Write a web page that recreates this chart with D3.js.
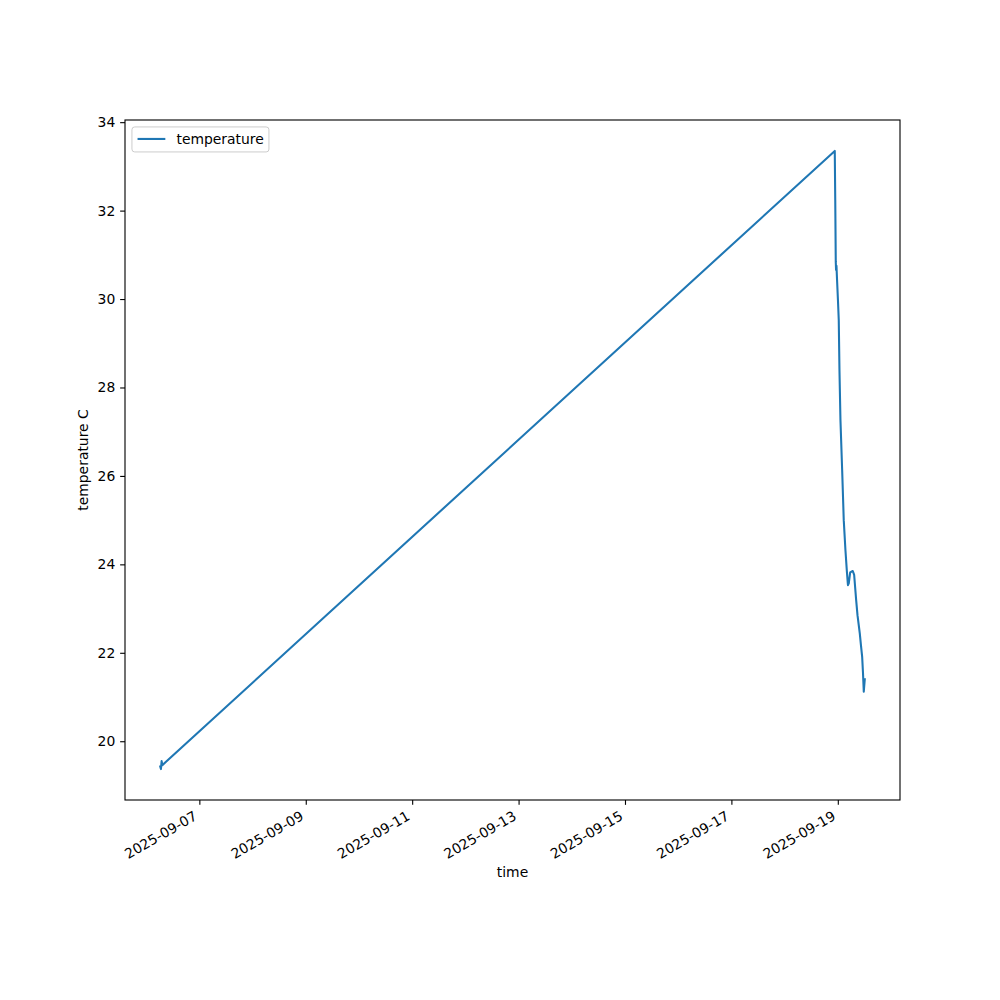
<!DOCTYPE html>
<html>
<head>
<meta charset="utf-8">
<script src="https://d3js.org/d3.v7.min.js"></script>
<style>
  body { margin: 0; background: #ffffff; }
  text { font-family: "DejaVu Sans", sans-serif; font-size: 13.9px; fill: #000000; }
</style>
</head>
<body>
<div id="chart"></div>
<script>
// temperature readings (UTC times)
var times = [
  "2025-09-06T06:21", "2025-09-06T06:40", "2025-09-06T06:59", "2025-09-06T07:18",
  "2025-09-18T22:38", "2025-09-18T22:51", "2025-09-18T23:05", "2025-09-18T23:13",
  "2025-09-18T23:24", "2025-09-18T23:40", "2025-09-19T00:04", "2025-09-19T00:26",
  "2025-09-19T00:45", "2025-09-19T01:12", "2025-09-19T01:58", "2025-09-19T02:41",
  "2025-09-19T03:27", "2025-09-19T04:03", "2025-09-19T04:35", "2025-09-19T04:57",
  "2025-09-19T05:35", "2025-09-19T06:45", "2025-09-19T07:23", "2025-09-19T08:17",
  "2025-09-19T08:53", "2025-09-19T09:55", "2025-09-19T10:27", "2025-09-19T11:00",
  "2025-09-19T11:21", "2025-09-19T11:43", "2025-09-19T12:10"
];
var temperature = [
  19.43, 19.37, 19.55, 19.46,
  33.35, 32.24, 30.84, 30.66,
  30.75, 30.43, 29.98, 29.52,
  28.39, 27.26, 26.13, 25.00,
  24.32, 23.87, 23.53, 23.57,
  23.82, 23.85, 23.76, 23.19,
  22.85, 22.44, 22.17, 21.90,
  21.56, 21.12, 21.40
];

// tick labels
var xTickLabels = ["2025-09-07", "2025-09-09", "2025-09-11", "2025-09-13",
  "2025-09-15", "2025-09-17", "2025-09-19"];
var yTickLabels = [20, 22, 24, 26, 28, 30, 32, 34];

var svgWidth = 1000;
var svgHeight = 1000;

// matplotlib default axes box (with autofmt_xdate bottom)
var margin = { top: 120, right: 100, bottom: 200, left: 125 };
var chartWidth = svgWidth - margin.left - margin.right;
var chartHeight = svgHeight - margin.top - margin.bottom;

var parseTime = d3.utcParse("%Y-%m-%dT%H:%M");
var parseDay = d3.utcParse("%Y-%m-%d");
var fontSize = 13.9;

var data = times.map(function(t, i) {
  return { time: parseTime(t), temperature: temperature[i] };
});

var svg = d3.select("#chart")
  .append("svg")
  .attr("width", svgWidth)
  .attr("height", svgHeight);

var chartGroup = svg.append("g")
  .attr("transform", `translate(${margin.left}, ${margin.top})`);

// 5% padding on both axes like matplotlib
var xExt = d3.extent(data, d => +d.time);
var xPad = (xExt[1] - xExt[0]) * 0.05;
var xScale = d3.scaleUtc()
  .domain([new Date(xExt[0] - xPad), new Date(xExt[1] + xPad)])
  .range([0, chartWidth]);

var yExt = d3.extent(data, d => d.temperature);
var yPad = (yExt[1] - yExt[0]) * 0.05;
var yScale = d3.scaleLinear()
  .domain([yExt[0] - yPad, yExt[1] + yPad])
  .range([chartHeight, 0]);

// line
var line = d3.line()
  .x(d => xScale(d.time))
  .y(d => yScale(d.temperature));

chartGroup.append("path")
  .datum(data)
  .attr("fill", "none")
  .attr("stroke", "#1f77b4")
  .attr("stroke-width", 2.08)
  .attr("stroke-linejoin", "round")
  .attr("stroke-linecap", "square")
  .attr("d", line);

// axes
var tickLen = 4.86;
var bottomAxis = d3.axisBottom(xScale)
  .tickValues(xTickLabels.map(parseDay))
  .tickSizeInner(tickLen)
  .tickSizeOuter(0)
  .tickFormat(d3.utcFormat("%Y-%m-%d"));

var leftAxis = d3.axisLeft(yScale)
  .tickValues(yTickLabels)
  .tickSizeInner(tickLen)
  .tickSizeOuter(0)
  .tickPadding(4.86)
  .tickFormat(d3.format("d"));

var xAxisG = chartGroup.append("g")
  .attr("transform", `translate(0, ${chartHeight})`)
  .call(bottomAxis);

var yAxisG = chartGroup.append("g")
  .call(leftAxis);

[xAxisG, yAxisG].forEach(function(g) {
  g.select(".domain").remove();
  g.selectAll(".tick line").attr("stroke", "#000").attr("stroke-width", 1.11);
  g.selectAll(".tick text")
    .style("font-family", "DejaVu Sans, sans-serif")
    .style("font-size", fontSize + "px")
    .attr("fill", "#000");
});

// rotated date labels, right/top aligned like autofmt_xdate
var ascent = fontSize * 0.76;
var descent = fontSize * 0.24;
xAxisG.selectAll(".tick text")
  .attr("text-anchor", "end")
  .attr("dy", null)
  .attr("y", null)
  .attr("transform", `translate(${-0.5 * descent}, ${tickLen + 4.86 + 0.866 * ascent}) rotate(-30)`);

// frame
chartGroup.append("rect")
  .attr("x", 0)
  .attr("y", 0)
  .attr("width", chartWidth)
  .attr("height", chartHeight)
  .attr("fill", "none")
  .attr("stroke", "#000")
  .attr("stroke-width", 1.11);

// axis labels
chartGroup.append("text")
  .attr("x", chartWidth / 2)
  .attr("y", chartHeight + 77)
  .attr("text-anchor", "middle")
  .text("time");

chartGroup.append("text")
  .attr("transform", `translate(${-37}, ${chartHeight / 2}) rotate(-90)`)
  .attr("text-anchor", "middle")
  .text("temperature C");

// legend
var legend = chartGroup.append("g")
  .attr("transform", "translate(6.94, 6.94)");

legend.append("rect")
  .attr("width", 137)
  .attr("height", 25)
  .attr("rx", 2.8)
  .attr("fill", "#ffffff")
  .attr("fill-opacity", 0.8)
  .attr("stroke", "#cccccc")
  .attr("stroke-width", 1);

legend.append("line")
  .attr("x1", 5.6)
  .attr("x2", 5.6 + 27.8)
  .attr("y1", 12)
  .attr("y2", 12)
  .attr("stroke", "#1f77b4")
  .attr("stroke-width", 2.08);

legend.append("text")
  .attr("x", 5.6 + 27.8 + 11.1)
  .attr("y", 17)
  .text("temperature");
</script>
</body>
</html>
